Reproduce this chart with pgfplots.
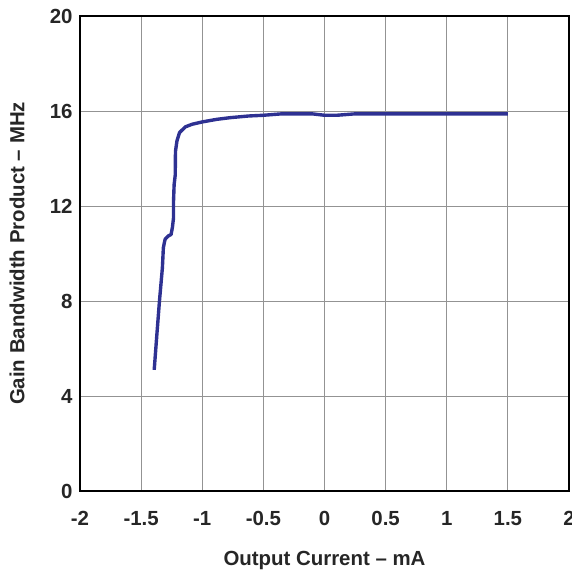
\documentclass[border=0pt]{standalone}
\usepackage{pgfplots}
\pgfplotsset{compat=1.18}
\usepackage{fontspec}
\setmainfont{Liberation Sans}
\definecolor{curve}{HTML}{2E3192}
\begin{document}
\begin{tikzpicture}
\begin{axis}[
  at={(0,0)}, anchor=south west,
  width=489bp, height=475bp, scale only axis,
  xmin=-2, xmax=2, ymin=0, ymax=20,
  xtick={-2,-1.5,...,2}, ytick={0,4,...,20},
  xticklabels={-2,-1.5,-1,-0.5,0,0.5,1,1.5,2},
  grid=major,
  major grid style={gray!85, line width=0.9pt},
  axis line style={black, line width=1.6pt},
  major tick length=0pt,
  /pgf/number format/assume math mode=true,
  ticklabel style={font=\fontsize{20.5}{24}\selectfont\bfseries, text=black!85},
  xticklabel style={yshift=-17bp},
  yticklabel style={xshift=-4bp},
  xlabel={Output Current – mA},
  ylabel={Gain Bandwidth Product – MHz},
  label style={font=\fontsize{20.5}{24}\selectfont\bfseries, text=black!85},
  xlabel style={at={(axis description cs:0.5,0)}, yshift=-57bp},
  ylabel style={at={(axis description cs:0,0.5)}, yshift=52bp},
  clip=false,
]
\addplot[curve, line width=3.4pt, line join=round] coordinates {
(-1.393,5.1) (-1.371,6.6) (-1.35,8.0) (-1.326,9.4) (-1.318,10.25) (-1.304,10.6)
(-1.277,10.74) (-1.255,10.8) (-1.244,11.1) (-1.235,11.5) (-1.235,12.2) (-1.23,12.9)
(-1.221,13.3) (-1.219,14.3) (-1.207,14.74) (-1.186,15.09) (-1.139,15.33) (-1.084,15.44)
(-1.0,15.54) (-0.88,15.65) (-0.77,15.72) (-0.62,15.79) (-0.5,15.82) (-0.35,15.88)
(-0.1,15.88) (0,15.82) (0.1,15.82) (0.25,15.88) (1.5,15.88)
};
\end{axis}
\pgfresetboundingbox
\path[use as bounding box] (-80bp,-80bp) rectangle (492bp,491bp);
\end{tikzpicture}
\end{document}
